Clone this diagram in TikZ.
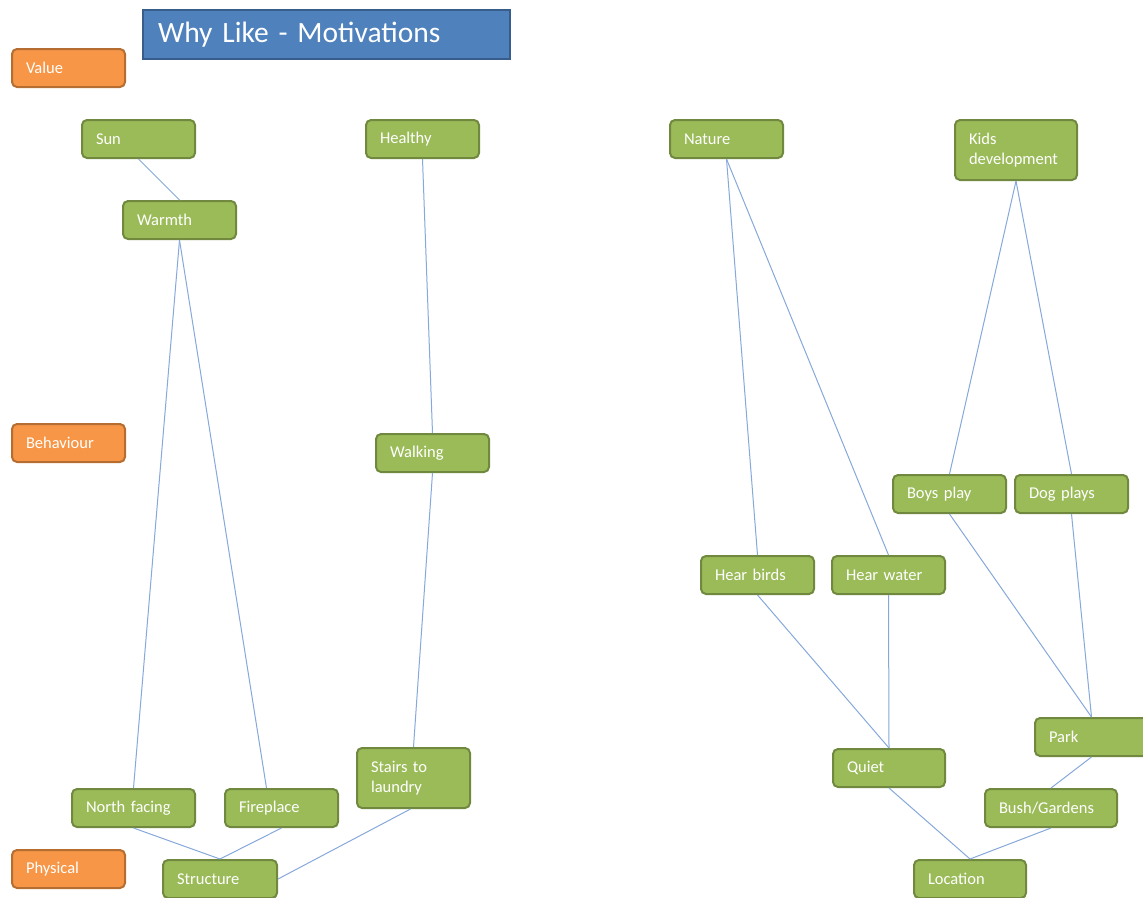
\documentclass[tikz,border=0pt]{standalone}
\usepackage{fontspec}
\setmainfont{Carlito}
\usetikzlibrary{calc}
\definecolor{gfill}{HTML}{9BBB59}
\definecolor{gline}{HTML}{71893F}
\definecolor{ofill}{HTML}{F79646}
\definecolor{oline}{HTML}{B66D31}
\definecolor{tfill}{HTML}{4F81BD}
\definecolor{tline}{HTML}{385D8A}
\definecolor{link}{HTML}{86A8DA}
\tikzset{
  gbox/.style={rectangle, rounded corners=5pt, fill=gfill, draw=gline, line width=2pt,
    text=white, inner xsep=14pt, inner ysep=0pt, align=left, minimum height=38pt,
    font=\fontsize{16.5}{20}\selectfont},
  obox/.style={gbox, fill=ofill, draw=oline},
  tbox/.style={rectangle, fill=tfill, draw=tline, line width=1.5pt, text=white,
    inner xsep=15pt, inner ysep=0pt, align=left, minimum height=49pt,
    font=\fontsize{29.5}{34}\selectfont},
  conn/.style={draw=link, line width=1pt}
}
\begin{document}
\begin{tikzpicture}[x=1pt, y=-1pt]
\useasboundingbox (0,0) rectangle (1143,897);

% title
\node[tbox, text width=337pt] (title) at (326.5,34.5) {Why Like - Motivations};

% level labels
\node[obox, text width=85pt] (value) at (68.5,68) {Value};
\node[obox, text width=85pt] (behaviour) at (68.5,443) {Behaviour};
\node[obox, text width=85pt] (physical) at (68.5,869) {Physical};

% left tree
\node[gbox, text width=85pt] (sun) at (138.5,139) {Sun};
\node[gbox, text width=85pt] (healthy) at (422.5,139) {Healthy};
\node[gbox, text width=85pt] (warmth) at (179.5,220) {Warmth};
\node[gbox, text width=85pt] (walking) at (432.5,453) {Walking};
\node[gbox, text width=95pt] (north) at (133.5,808) {North facing};
\node[gbox, text width=85pt] (fire) at (281.5,808) {Fireplace};
\node[gbox, text width=85pt, minimum height=60pt] (stairs) at (413.5,778) {Stairs to\\laundry};
\node[gbox, text width=86pt] (structure) at (220,879) {Structure};

% right tree
\node[gbox, text width=85pt] (nature) at (726.5,139) {Nature};
\node[gbox, text width=94pt, minimum height=60pt] (kids) at (1016,150) {Kids\\development};
\node[gbox, text width=85pt] (boys) at (949.5,494) {Boys play};
\node[gbox, text width=85pt] (dog) at (1071.5,494) {Dog plays};
\node[gbox, text width=85pt] (birds) at (757.5,575) {Hear birds};
\node[gbox, text width=85pt] (water) at (888.5,575) {Hear water};
\node[gbox, text width=85pt] (park) at (1091.5,737) {Park};
\node[gbox, text width=84pt] (quiet) at (889,768) {Quiet};
\node[gbox, text width=104pt] (bush) at (1051,808) {Bush/Gardens};
\node[gbox, text width=84pt] (location) at (970,879) {Location};

% connectors, left
\draw[conn] (sun.south) -- (warmth.north);
\draw[conn] (warmth.south) -- (north.north);
\draw[conn] (warmth.south) -- ($(fire.north)+(-15,0)$);
\draw[conn] (healthy.south) -- (walking.north);
\draw[conn] (walking.south) -- (stairs.north);
\draw[conn] (north.south) -- (structure.north);
\draw[conn] (fire.south) -- (structure.north);
\draw[conn] ($(stairs.south)+(-3,0)$) -- (structure.east);

% connectors, right
\draw[conn] (nature.south) -- (birds.north);
\draw[conn] (nature.south) -- (water.north);
\draw[conn] (kids.south) -- (boys.north);
\draw[conn] (kids.south) -- (dog.north);
\draw[conn] (birds.south) -- (quiet.north);
\draw[conn] (water.south) -- (quiet.north);
\draw[conn] (boys.south) -- (park.north);
\draw[conn] (dog.south) -- (park.north);
\draw[conn] (park.south) -- (bush.north);
\draw[conn] (quiet.south) -- (location.north);
\draw[conn] (bush.south) -- (location.north);
\end{tikzpicture}
\end{document}
